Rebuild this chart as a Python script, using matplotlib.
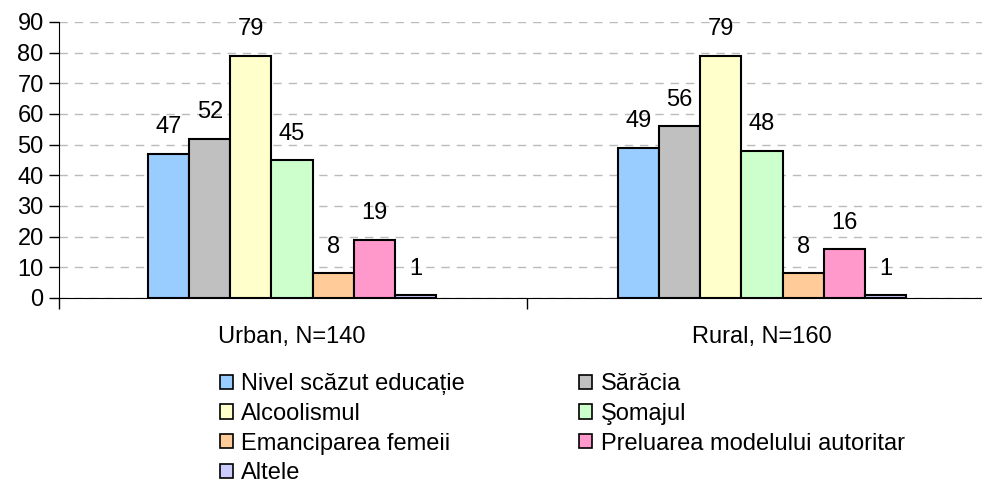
import numpy as np
import matplotlib.pyplot as plt
from matplotlib.patches import Patch

plt.rcParams['font.family'] = ['Liberation Sans', 'DejaVu Sans']

groups = ['Urban, N=140', 'Rural, N=160']
series = ['Nivel scăzut educație', 'Sărăcia', 'Alcoolismul', 'Şomajul',
          'Emanciparea femeii', 'Preluarea modelului autoritar', 'Altele']
urban = [47, 52, 79, 45, 8, 19, 1]
rural = [49, 56, 79, 48, 8, 16, 1]
colors = ['#99CCFF', '#C0C0C0', '#FFFFCC', '#CCFFCC', '#FFCC99', '#FF99CC', '#CCCCFF']

fs = 17
fig = plt.figure(figsize=(9.82, 5.0), dpi=100)
ax = fig.add_axes([0.060, 0.404, 0.94, 0.552])

x = np.arange(len(groups))
w = 0.0875
vals = np.array([urban, rural])
for i, name in enumerate(series):
    pos = x - 3 * w + i * w
    bars = ax.bar(pos, vals[:, i], w, color=colors[i], edgecolor='black', linewidth=1.5, zorder=3)
    for b, v in zip(bars, vals[:, i]):
        ax.annotate(str(v), (b.get_x() + b.get_width() / 2, v), xytext=(0, 19),
                    textcoords='offset points', ha='center', va='center', fontsize=fs)

ax.set_xlim(-0.496, 1.468)
ax.set_ylim(0, 90)
ax.set_yticks(range(0, 91, 10))
ax.tick_params(axis='y', labelsize=fs, length=7, width=1, pad=4)
ax.yaxis.grid(True, linestyle=(0, (6, 5)), color='#BBBBBB', linewidth=1, zorder=0)
ax.set_xticks([-0.496, 0.5])
ax.set_xticklabels([])
ax.tick_params(axis='x', length=8, width=1)
for g, xi in zip(groups, x):
    ax.text(xi, -0.14, g, transform=ax.get_xaxis_transform(), ha='center', va='center', fontsize=fs)
for s in ['top', 'right']:
    ax.spines[s].set_visible(False)
ax.spines['left'].set_bounds(0, 90)
ax.spines['left'].set_position(('data', -0.496))

handles = [Patch(facecolor=c, edgecolor='black', linewidth=1.2) for c in colors]
order = [0, 2, 4, 6, 1, 3, 5]
fig.legend([handles[k] for k in order], [series[k] for k in order], ncol=2,
           loc='upper left', bbox_to_anchor=(0.224, 0.254), frameon=False, fontsize=fs,
           handlelength=0.55, handleheight=0.55, handletextpad=0.35, labelspacing=0.33,
           columnspacing=4.85, borderaxespad=0, borderpad=0)

fig.savefig('out.png', dpi=100)
